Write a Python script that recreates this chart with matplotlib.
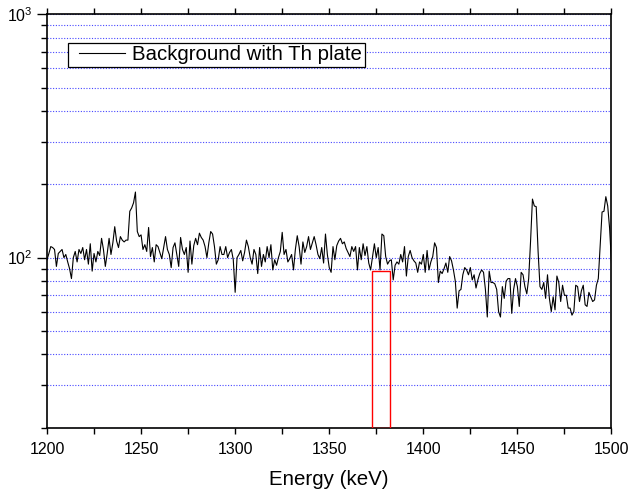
import numpy as np
import matplotlib
matplotlib.use("Agg")
import matplotlib.pyplot as plt
from matplotlib.patches import Rectangle
from matplotlib.legend_handler import HandlerLine2D
from matplotlib.ticker import FixedLocator, FixedFormatter, NullFormatter

plt.rcParams['font.family'] = ['Liberation Sans', 'DejaVu Sans']
plt.rcParams['mathtext.default'] = 'regular'

# spectrum, 1 keV bins starting at 1200 keV
counts = [
    98, 104, 111, 110, 108, 92, 104, 106, 108, 100,
    103, 96, 90, 82, 100, 106, 96, 108, 104, 110,
    98, 108, 94, 114, 88, 104, 96, 106, 102, 120,
    108, 92, 104, 120, 103, 115, 134, 117, 110, 122,
    118, 116, 118, 118, 155, 160, 168, 186, 128, 122,
    124, 108, 113, 106, 133, 101, 110, 96, 113, 111,
    105, 99, 110, 122, 108, 103, 91, 110, 115, 103,
    92, 121, 108, 103, 110, 87, 117, 94, 112, 120,
    113, 126, 121, 118, 111, 100, 115, 128, 125, 111,
    94, 98, 111, 103, 103, 111, 100, 105, 108, 98,
    72, 100, 103, 107, 97, 105, 118, 111, 100, 94,
    108, 103, 86, 110, 92, 103, 96, 111, 100, 113,
    89, 98, 93, 100, 106, 127, 103, 108, 96, 99,
    103, 89, 108, 123, 111, 94, 116, 105, 111, 122,
    108, 115, 122, 113, 103, 99, 110, 95, 125, 103,
    91, 87, 111, 98, 112, 117, 120, 114, 116, 109,
    105, 101, 111, 106, 111, 89, 110, 98, 114, 102,
    111, 95, 89, 101, 114, 100, 110, 89, 125, 123,
    101, 94, 97, 98, 81, 93, 96, 94, 103, 96,
    111, 84, 101, 107, 100, 97, 95, 87, 96, 94,
    103, 87, 107, 89, 96, 101, 115, 110, 79, 88,
    86, 90, 95, 87, 101, 97, 89, 80, 62, 73,
    74, 85, 91, 89, 85, 91, 81, 85, 75, 81,
    86, 89, 87, 74, 57, 88, 79, 79, 78, 74,
    60, 57, 76, 68, 80, 82, 82, 59, 74, 82,
    76, 63, 87, 85, 76, 71, 82, 117, 174, 163,
    162, 106, 76, 74, 79, 68, 85, 68, 60, 69,
    61, 84, 79, 66, 77, 70, 70, 62, 62, 58,
    60, 77, 76, 66, 73, 77, 64, 63, 72, 69,
    66, 67, 77, 82, 113, 154, 155, 178, 163, 132,
    95,
]
energy = np.arange(1200, 1200 + len(counts))

# region of interest (red box)
roi_lo = 1372.5
roi_hi = 1382.5
roi_top = 88

xticks = [1200, 1250, 1300, 1350, 1400, 1450, 1500]
xminor = [1225, 1275, 1325, 1375, 1425, 1475]
ymajor = [100, 1000]
ylabels = [r'$\mathregular{10^{2}}$', r'$\mathregular{10^{3}}$']
yminor = [20, 30, 40, 50, 60, 70, 80, 90, 200, 300, 400, 500, 600, 700, 800, 900]

fig = plt.figure(figsize=(6.3, 4.93), dpi=100)
ax = fig.add_axes([0.0746, 0.1325, 0.896, 0.8385])

ax.set_yscale('log')
ax.set_xlim(1200, 1500)
ax.set_ylim(20, 1000)

# dotted blue grid at every y tick
for g in yminor + ymajor:
    ax.axhline(g, color='#3333ff', lw=0.8, ls=(0, (1, 1.5)), alpha=0.9, zorder=1)

ax.plot(energy, counts, color='black', lw=0.8, label='Background with Th plate', zorder=3)

ax.add_patch(Rectangle((roi_lo, 20), roi_hi - roi_lo, roi_top - 20,
                       fill=False, edgecolor='red', lw=1.0, zorder=4))

ax.xaxis.set_major_locator(FixedLocator(xticks))
ax.xaxis.set_minor_locator(FixedLocator(xminor))
ax.yaxis.set_major_locator(FixedLocator(ymajor))
ax.yaxis.set_major_formatter(FixedFormatter(ylabels))
ax.yaxis.set_minor_locator(FixedLocator(yminor))
ax.yaxis.set_minor_formatter(NullFormatter())

ax.tick_params(axis='x', which='both', direction='out', length=4, width=1, top=True,
               labelsize=11.5, pad=6)
ax.tick_params(axis='y', which='major', direction='out', length=7, width=1, labelsize=11.5)
ax.tick_params(axis='y', which='minor', direction='out', length=4, width=1)

for s in ax.spines.values():
    s.set_linewidth(1.2)

ax.set_xlabel('Energy (keV)', fontsize=14.8, labelpad=10)

leg = ax.legend(loc='upper left', bbox_to_anchor=(0.037, 0.931), fontsize=14.7,
                frameon=True, fancybox=False, edgecolor='black', framealpha=1,
                handlelength=2.7, borderpad=0.12, handletextpad=0.34, borderaxespad=0,
                handler_map={plt.Line2D: HandlerLine2D(xpad=0.44)})
leg.get_frame().set_linewidth(0.9)

fig.savefig('out.png', dpi=100)
